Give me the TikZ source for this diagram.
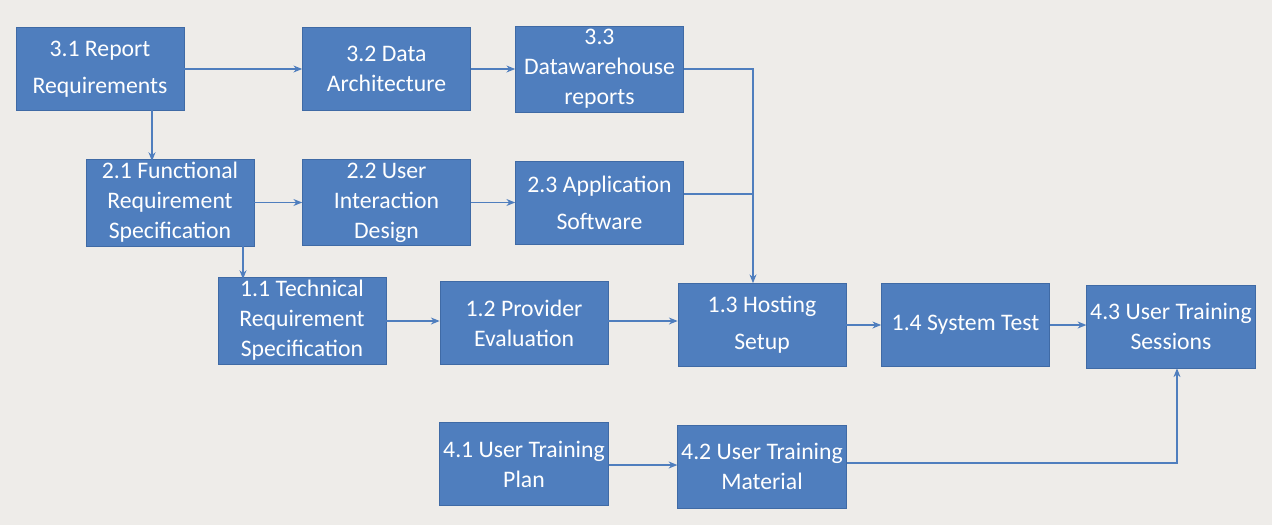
\documentclass[tikz,border=0pt]{standalone}
\usepackage{fontspec}
\setmainfont{Carlito}
\usetikzlibrary{arrows.meta}
\definecolor{bx}{HTML}{4F7EBE}
\definecolor{bd}{HTML}{3F6AA5}
\definecolor{bg}{HTML}{EEECE9}
\begin{document}
\begin{tikzpicture}[x=0.02cm,y=-0.02cm,
  box/.style={draw=bd,fill=bx,text=white,minimum width=3.36cm,minimum height=1.66cm,align=center,font=\fontsize{13.5}{17}\selectfont,inner sep=2pt},
  ar/.style={draw=bx,line width=0.7pt,-{Stealth[length=5pt,width=4pt]}},
  ln/.style={draw=bx,line width=0.7pt}]
\fill[bg] (0,0) rectangle (1272,525);
\node[box] (a31) at (100,69) {3.1 Report\\[4pt]Requirements};
\node[box] (a32) at (386.5,69) {3.2 Data\\Architecture};
\node[box] (a33) at (599.5,69) {3.3\\Datawarehouse\\reports};
\node[box] (a21) at (170,202.5) {2.1 Functional\\Requirement\\Specification};
\node[box] (a22) at (386.5,202.5) {2.2 User\\Interaction\\Design};
\node[box] (a23) at (599.5,202.5) {2.3 Application\\[4pt]Software};
\node[box] (a11) at (302,320.5) {1.1 Technical\\Requirement\\Specification};
\node[box] (a12) at (524,323) {1.2 Provider\\Evaluation};
\node[box] (a13) at (762,325) {1.3 Hosting\\[4pt]Setup};
\node[box] (a14) at (965.5,325) {1.4 System Test};
\node[box] (a43) at (1171,326.5) {4.3 User Training\\Sessions};
\node[box] (a41) at (524,464) {4.1 User Training\\Plan};
\node[box] (a42) at (762,466.5) {4.2 User Training\\Material};
\draw[ar] (a31) -- (a32);
\draw[ar] (a32) -- (a33);
\coordinate (j1) at (753,69);
\coordinate (j2) at (753,194);
\draw[ar] (a33.east |- j1) -- (j1) -- (j1 |- a13.north);
\draw[ln] (a23.east |- j2) -- (j2);
\draw[ar] (152,110) -- (152,161);
\draw[ar] (a21) -- (a22);
\draw[ar] (a22) -- (a23);
\draw[ar] (243,244) -- (243,279);
\draw[ar] (a11.east |- 0,321) -- (a12.west |- 0,321);
\draw[ar] (a12.east |- 0,321) -- (a13.west |- 0,321);
\draw[ar] (a13) -- (a14);
\draw[ar] (a14) -- (a43.west |- a14);
\draw[ar] (a41.east |- 0,465) -- (a42.west |- 0,465);
\coordinate (j3) at (1177,463);
\draw[ar] (a42.east |- j3) -- (j3) -- (j3 |- a43.south);
\end{tikzpicture}
\end{document}
